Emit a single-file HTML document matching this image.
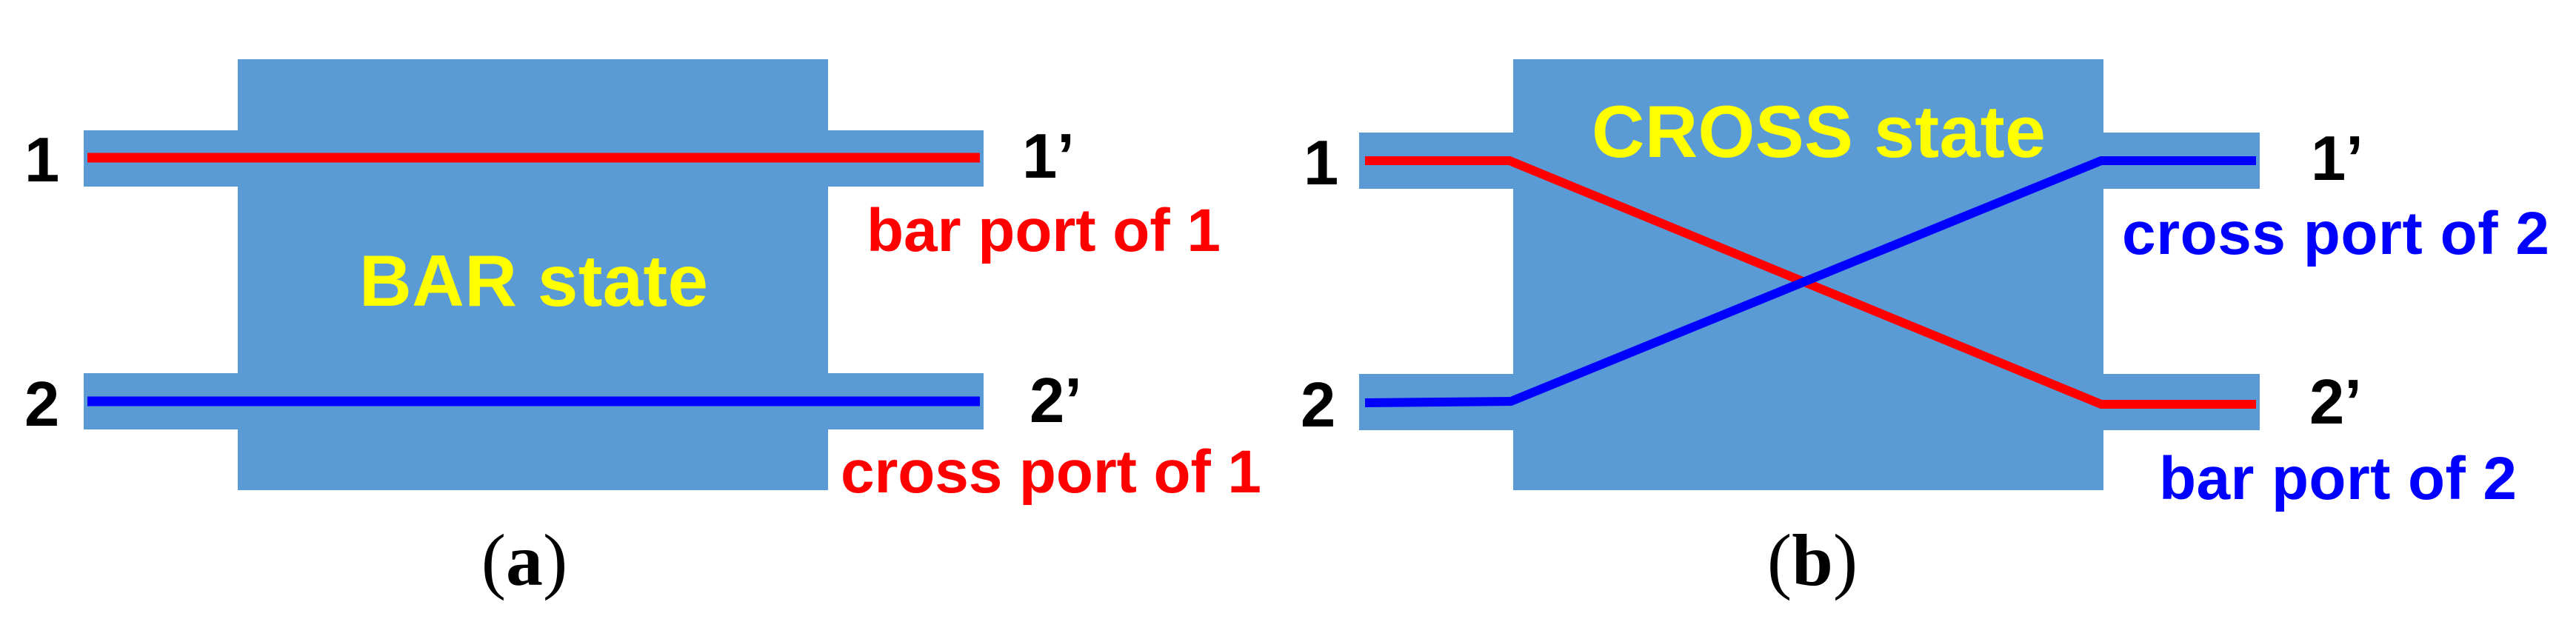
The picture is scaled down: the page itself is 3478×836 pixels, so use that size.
<!DOCTYPE html>
<html><head><meta charset="utf-8"><style>html,body{margin:0;padding:0;background:#fff}svg{display:block}</style></head>
<body>
<svg width="3478" height="836" viewBox="0 0 3478 836" xmlns="http://www.w3.org/2000/svg">
<g fill="#5b9bd5">
<rect x="321" y="80" width="797" height="582"/>
<rect x="113" y="176" width="1215" height="76"/>
<rect x="113" y="504" width="1215" height="76"/>
<rect x="2043" y="80" width="797" height="582"/>
<rect x="1835" y="179" width="1216" height="76"/>
<rect x="1835" y="505" width="1216" height="76"/>
</g>
<line x1="118" y1="213" x2="1323" y2="213" stroke="#ff0000" stroke-width="13"/>
<line x1="118" y1="542" x2="1323" y2="542" stroke="#0000ff" stroke-width="13"/>
<polyline points="1843,217 2038,217 2837,546 3046,546" fill="none" stroke="#ff0000" stroke-width="12"/>
<polyline points="1843,544 2040,542 2837,217 3046,217" fill="none" stroke="#0000ff" stroke-width="12"/>
<g font-family="Liberation Sans, Arial, sans-serif" font-weight="bold">
<text x="33" y="245" font-size="85" fill="#000">1</text>
<text x="1380" y="240" font-size="85" fill="#000">1’</text>
<text x="33" y="575" font-size="85" fill="#000">2</text>
<text x="1390" y="570" font-size="85" fill="#000">2’</text>
<text x="1170" y="339" font-size="82" fill="#ff0000" textLength="478">bar port of 1</text>
<text x="1135" y="665" font-size="82" fill="#ff0000" textLength="568">cross port of 1</text>
<text x="485" y="413" font-size="98" fill="#ffff00" textLength="471">BAR state</text>

<text x="1760" y="249" font-size="85" fill="#000">1</text>
<text x="3120" y="243" font-size="85" fill="#000">1’</text>
<text x="1756" y="576" font-size="85" fill="#000">2</text>
<text x="3118" y="572" font-size="85" fill="#000">2’</text>
<text x="2865" y="343" font-size="82" fill="#0000ff" textLength="577">cross port of 2</text>
<text x="2915" y="674" font-size="82" fill="#0000ff" textLength="483">bar port of 2</text>
<text x="2149" y="212" font-size="99" fill="#ffff00" textLength="613">CROSS state</text>
</g>
<g font-family="Liberation Serif, Times New Roman, serif" font-size="100" fill="#000" text-anchor="middle">
<text x="708" y="790">(<tspan font-weight="bold">a</tspan>)</text>
<text x="2447" y="790">(<tspan font-weight="bold">b</tspan>)</text>
</g>
</svg>
</body></html>
